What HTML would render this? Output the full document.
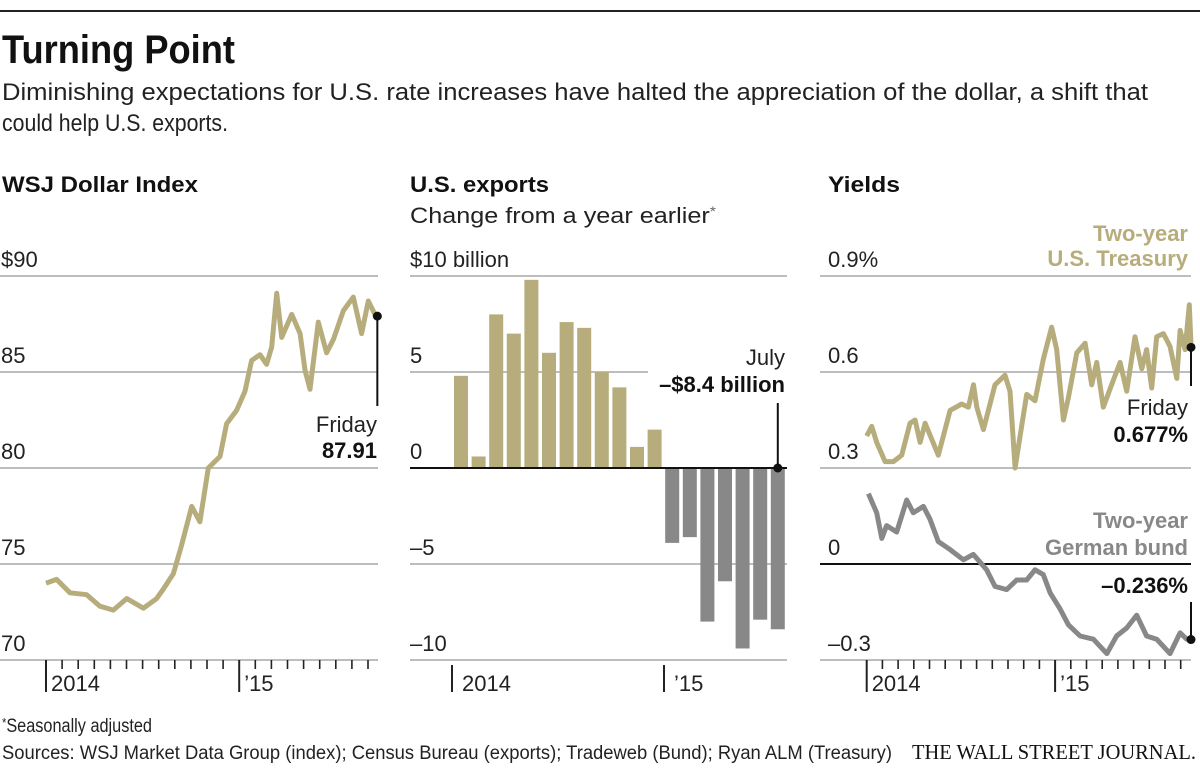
<!DOCTYPE html>
<html><head><meta charset="utf-8">
<style>
html,body{margin:0;padding:0;background:#fff;}
svg{display:block;font-family:"Liberation Sans Narrow","Liberation Sans",sans-serif;}
</style></head>
<body>
<svg id="chart" width="1200" height="769" viewBox="0 0 1200 769" xmlns="http://www.w3.org/2000/svg">
<rect x="0" y="0" width="1200" height="769" fill="#fff"/>
<line x1="0" y1="11" x2="1200" y2="11" stroke="#222" stroke-width="2"/>
<text x="2" y="63" font-size="40" font-weight="bold" fill="#111" textLength="233" lengthAdjust="spacingAndGlyphs">Turning Point</text>
<text x="2" y="100" font-size="24" fill="#222" textLength="1146" lengthAdjust="spacingAndGlyphs">Diminishing expectations for U.S. rate increases have halted the appreciation of the dollar, a shift that</text>
<text x="2" y="131" font-size="24" fill="#222" textLength="226" lengthAdjust="spacingAndGlyphs">could help U.S. exports.</text>
<text x="2" y="192" font-size="22" font-weight="bold" fill="#111" textLength="196" lengthAdjust="spacingAndGlyphs">WSJ Dollar Index</text>
<text x="410" y="192" font-size="22" font-weight="bold" fill="#111" textLength="139" lengthAdjust="spacingAndGlyphs">U.S. exports</text>
<text x="410" y="223" font-size="22" fill="#222" textLength="306" lengthAdjust="spacingAndGlyphs">Change from a year earlier<tspan font-size="14" dy="-7" fill="#666">*</tspan></text>
<text x="828" y="192" font-size="22" font-weight="bold" fill="#111" textLength="72" lengthAdjust="spacingAndGlyphs">Yields</text>
<text x="2" y="732" font-size="19" fill="#222" textLength="150" lengthAdjust="spacingAndGlyphs"><tspan font-size="13" dy="-5">*</tspan><tspan dy="5">Seasonally adjusted</tspan></text>
<text x="2" y="759" font-size="19" fill="#222" textLength="890" lengthAdjust="spacingAndGlyphs">Sources: WSJ Market Data Group (index); Census Bureau (exports); Tradeweb (Bund); Ryan ALM (Treasury)</text>
<text x="912" y="759" font-family="Liberation Serif, serif" font-size="21" fill="#111" textLength="284" lengthAdjust="spacingAndGlyphs">THE WALL STREET JOURNAL.</text>
<g id="left"></g>
<g id="mid"></g>
<g id="right"></g>
</svg>
<script>
// ---- Dollar index data (months since Jan 2014) ----
const dollarMonths = [0,0.66,1.49,2.53,3.35,4.18,5.01,6.05,6.87,7.29,7.91,8.43,9.05,9.56,10.08,10.81,11.22,11.84,12.36,12.77,13.29,13.7,14.02,14.33,14.64,15.26,15.78,16.09,16.4,16.91,17.43,17.85,18.47,19.09,19.6,20.02,20.43,20.58];
const dollarValues = [74.0,74.2,73.5,73.4,72.8,72.6,73.2,72.7,73.2,73.7,74.5,76.0,78.0,77.2,80.0,80.6,82.3,83.0,84.0,85.6,85.9,85.4,86.3,89.1,86.8,88.0,87.0,85.1,84.1,87.6,86.0,86.7,88.2,88.9,87.0,88.7,88.0,87.91];
const dollarTicks = [70,75,80,85,90];
const dollarTickLabels = ["70","75","80","85","$90"];
// ---- Exports data (monthly, Jan 2014 - Jul 2015) ----
const exportMonths = ["Jan 14","Feb 14","Mar 14","Apr 14","May 14","Jun 14","Jul 14","Aug 14","Sep 14","Oct 14","Nov 14","Dec 14","Jan 15","Feb 15","Mar 15","Apr 15","May 15","Jun 15","Jul 15"];
const exportValues = [4.8,0.6,8.0,7.0,9.8,6.0,7.6,7.3,5.0,4.2,1.1,2.0,-3.9,-3.6,-8.0,-5.9,-9.4,-7.9,-8.4];
const exportTicks = [-10,-5,0,5,10];
const exportTickLabels = ["\u201310","\u20135","0","5","$10 billion"];
// ---- Yields data ----
const treasuryMonths = [0.0,0.32,0.64,1.17,1.7,2.23,2.76,3.08,3.4,3.72,4.56,5.31,6.05,6.48,6.8,7.01,7.43,8.17,8.81,9.13,9.45,9.77,10.19,10.72,11.25,11.78,12.1,12.53,12.85,13.38,13.91,14.33,14.65,15.07,15.6,16.14,16.56,17.09,17.52,17.83,18.15,18.47,18.9,19.32,19.75,19.96,20.28,20.55,20.66];
const treasuryValues = [0.40,0.43,0.38,0.32,0.32,0.34,0.44,0.45,0.38,0.44,0.34,0.48,0.50,0.49,0.56,0.49,0.42,0.56,0.59,0.54,0.30,0.40,0.53,0.51,0.64,0.74,0.67,0.45,0.52,0.66,0.69,0.56,0.63,0.49,0.56,0.63,0.54,0.71,0.61,0.67,0.55,0.71,0.72,0.68,0.58,0.73,0.67,0.81,0.677];
const bundMonths = [0.11,0.64,0.96,1.27,1.91,2.55,2.97,3.61,4.03,4.56,5.31,6.16,6.79,7.64,8.17,8.92,9.55,10.19,10.72,11.25,11.68,12.31,12.85,13.59,14.44,15.29,15.92,16.56,17.2,17.83,18.47,19.32,19.96,20.38,20.66];
const bundValues = [0.22,0.16,0.08,0.12,0.10,0.20,0.16,0.18,0.14,0.07,0.045,0.013,0.03,-0.018,-0.07,-0.08,-0.05,-0.05,-0.018,-0.033,-0.09,-0.14,-0.19,-0.225,-0.235,-0.28,-0.225,-0.20,-0.16,-0.225,-0.235,-0.28,-0.215,-0.235,-0.236];
const yieldTicks = [-0.3,0,0.3,0.6,0.9];
const yieldTickLabels = ["\u20130.3","0","0.3","0.6","0.9%"];

const NS = "http://www.w3.org/2000/svg";
function mk(parent, tag, attrs, text){
  const e = document.createElementNS(NS, tag);
  for (const k in attrs) e.setAttribute(k, attrs[k]);
  if (text !== undefined) e.textContent = text;
  parent.appendChild(e);
  return e;
}
const GOLD = "#b7ad7c", GRAY = "#888", GRID = "#bdbdbd";
const TOP = 276, BOT = 660;

function drawTimeAxis(g, x0, monthW, startM, endM){
  for (let m = 0; m <= endM; m++) {
    const x = x0 + m * monthW;
    const year = (m % 12 === 0);
    const t = mk(g, "line", {x1:x, x2:x, y1:BOT, y2: year ? 692 : 669, stroke:"#222", "stroke-width": year ? 2 : 1.6});
    
    
    if (year) {
      const l = mk(g, "text", {x:x+5, y:691, "font-size":22, fill:"#222"}, m === 0 ? "2014" : "\u201915");
      
      
    }
  }
}
function gridAndLabels(g, ticks, labels, yScale, x1, x2, lx, zeroIdx, shortEnd){
  ticks.forEach((v, i) => {
    const y = yScale(v);
    const isZero = v === 0 && zeroIdx;
    const gl = mk(g, "line", {x1:x1, x2:(shortEnd && shortEnd[i]) || x2, y1:y, y2:y, stroke: isZero ? "#111" : GRID, "stroke-width": 2});
    
    
    const t = mk(g, "text", {x:lx, y:y-9, "font-size":22, fill:"#222"}, labels[i]);
    
    
  });
}
function pathFrom(xs, ys, xf, yf){
  return xs.map((m,i)=>(i?"L":"M")+xf(m).toFixed(1)+","+yf(ys[i]).toFixed(1)).join("");
}

// ----- Left: Dollar index -----
(function(){
  const g = document.getElementById("left");
  const y = v => BOT - (v - 70) / 20 * (BOT - TOP);
  const x0 = 46, mw = 16.1;
  const x = m => x0 + m * mw;
  gridAndLabels(g, dollarTicks, dollarTickLabels, y, 0, 378, 1, false);
  drawTimeAxis(g, x0, mw, 0, 20);
  const p = mk(g, "path", {d: pathFrom(dollarMonths, dollarValues, x, y), fill:"none", stroke:GOLD, "stroke-width":5, "stroke-linejoin":"round"});
  
  
  const lm = dollarMonths[dollarMonths.length-1], lv = dollarValues[dollarValues.length-1];
  const ld = mk(g, "line", {x1:x(lm), x2:x(lm), y1:y(lv), y2:406, stroke:"#111", "stroke-width":2});
  
  
  const dot = mk(g, "circle", {cx:x(lm), cy:y(lv), r:4.5, fill:"#111"});
  
  
  const a = mk(g, "text", {x:377, y:432, "font-size":22, fill:"#222", "text-anchor":"end"}, "Friday");
  
  
  const b = mk(g, "text", {x:377, y:458, "font-size":22, "font-weight":"bold", fill:"#111", "text-anchor":"end"}, lv.toFixed(2));
  
  
})();

// ----- Middle: exports bars -----
(function(){
  const g = document.getElementById("mid");
  const y = v => BOT - (v + 10) / 20 * (BOT - TOP);
  gridAndLabels(g, exportTicks, exportTickLabels, y, 410, 787, 410, true, [null,null,null,648,null]);
  const bx = i => 454 + i * 17.6;
  exportValues.forEach((v, i) => {
    const r = mk(g, "rect", {x:bx(i), width:14, y: Math.min(y(v), y(0)), height: Math.abs(y(v) - y(0)), fill: v >= 0 ? GOLD : GRAY});
    
    
  });
  const z = mk(g, "line", {x1:410, x2:787, y1:y(0), y2:y(0), stroke:"#111", "stroke-width":2});
  
  
  [[452,"2014"],[664,"\u201915"]].forEach(([tx,lab])=>{
    const t = mk(g, "line", {x1:tx, x2:tx, y1:665, y2:692, stroke:"#222", "stroke-width":2});
    
    
    const l = mk(g, "text", {x:tx+10, y:691, "font-size":22, fill:"#222"}, lab);
    
    
  });
  const last = exportValues.length - 1;
  const cx = bx(last) + 7;
  const ld = mk(g, "line", {x1:cx, x2:cx, y1:403, y2:y(0), stroke:"#111", "stroke-width":2});
  
  
  const dot = mk(g, "circle", {cx:cx, cy:y(0), r:4.5, fill:"#111"});
  
  
  const a = mk(g, "text", {x:785, y:365, "font-size":22, fill:"#222", "text-anchor":"end"}, "July");
  
  
  const b = mk(g, "text", {x:785, y:392, "font-size":22, "font-weight":"bold", fill:"#111", "text-anchor":"end"}, "\u2013$" + Math.abs(exportValues[last]).toFixed(1) + " billion");
  
  
})();

// ----- Right: Yields -----
(function(){
  const g = document.getElementById("right");
  const y = v => BOT - (v + 0.3) / 1.2 * (BOT - TOP);
  const x0 = 866.7, mw = 15.7;
  const x = m => x0 + m * mw;
  gridAndLabels(g, yieldTicks, yieldTickLabels, y, 820, 1191, 828, true);
  drawTimeAxis(g, x0, mw, 0, 20);
  const p1 = mk(g, "path", {d: pathFrom(treasuryMonths, treasuryValues, x, y), fill:"none", stroke:GOLD, "stroke-width":5, "stroke-linejoin":"round"});
  
  
  const p2 = mk(g, "path", {d: pathFrom(bundMonths, bundValues, x, y), fill:"none", stroke:GRAY, "stroke-width":5, "stroke-linejoin":"round"});
  
  
  const tv = treasuryValues[treasuryValues.length-1], bv = bundValues[bundValues.length-1];
  const ex = 1191;
  const l1 = mk(g, "line", {x1:ex, x2:ex, y1:y(tv), y2:386, stroke:"#111", "stroke-width":2});
  
  
  const d1 = mk(g, "circle", {cx:ex, cy:y(tv), r:4.5, fill:"#111"});
  
  
  const l2 = mk(g, "line", {x1:ex, x2:ex, y1:602, y2:y(bv), stroke:"#111", "stroke-width":2});
  
  
  const d2 = mk(g, "circle", {cx:ex, cy:y(bv), r:4.5, fill:"#111"});
  
  
  const labels = [
    [241,"Two-year",GOLD,true,'treasury-legend-label'],
    [266,"U.S. Treasury",GOLD,true,'treasury-legend-label'],
    [415,"Friday","#222",false,'treasury-callout-label'],
    [442,tv.toFixed(3)+"%","#111",true,'treasury-callout-value'],
    [528,"Two-year",GRAY,true,'bund-legend-label'],
    [555,"German bund",GRAY,true,'bund-legend-label'],
    [593,"\u2013"+Math.abs(bv).toFixed(3)+"%","#111",true,'bund-callout-value']
  ];
  labels.forEach(([ly,txt,col,bold,nm])=>{
    const t = mk(g, "text", {x:1188, y:ly, "font-size":22, fill:col, "font-weight": bold ? "bold" : "normal", "text-anchor":"end"}, txt);
    
    
  });
})();
</script>
</body></html>
